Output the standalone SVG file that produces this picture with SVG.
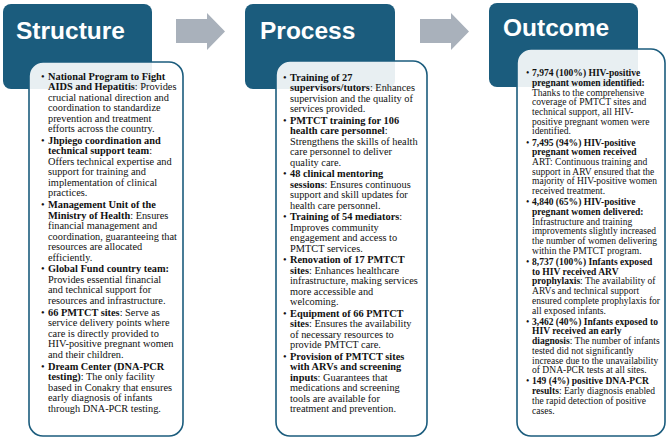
<svg xmlns="http://www.w3.org/2000/svg" width="669" height="439" viewBox="0 0 669 439">
<style>
.hdr{fill:#1b5c7d}
.card{fill:#ffffff;fill-opacity:0.9;stroke:#1b5c7d;stroke-width:1.6}
.ttl{font-family:"Liberation Sans",Arial,sans-serif;font-weight:bold;font-size:24.5px;fill:#ffffff}
.t{font-family:"Liberation Serif","Times New Roman",serif;font-size:10.35px;fill:#111111}
.o{font-family:"Liberation Serif","Times New Roman",serif;font-size:9.55px;fill:#111111}
.b{font-weight:bold}
.arr{fill:#a9b1bb}
</style>
<rect width="669" height="439" fill="#ffffff"/>
<g id="connectors">
<path class="arr" d="M176,19 H207 V13 L225,31.5 L207,50 V43 H176 Z"/>
<path class="arr" d="M420,19 H451 V13 L469,31.5 L451,50 V43 H420 Z"/>
</g>
<g id="structure">
<rect class="hdr" x="3" y="4" width="149" height="85" rx="8"/>
<text class="ttl" x="16" y="39">Structure</text>
<rect class="card" x="29" y="62" width="154" height="374" rx="14"/>
<g class="t">
<text x="41" y="79.5">•</text>
<text x="48" y="79.5" class="b">National Program to Fight</text>
<text x="48" y="90"><tspan class="b">AIDS and Hepatitis</tspan>: Provides</text>
<text x="48" y="100.5">crucial national direction and</text>
<text x="48" y="111">coordination to standardize</text>
<text x="48" y="121.5">prevention and treatment</text>
<text x="48" y="132">efforts across the country.</text>
<text x="41" y="143.8">•</text>
<text x="48" y="143.8" class="b">Jhpiego coordination and</text>
<text x="48" y="154.3"><tspan class="b">technical support team</tspan>:</text>
<text x="48" y="164.8">Offers technical expertise and</text>
<text x="48" y="175.3">support for training and</text>
<text x="48" y="185.8">implementation of clinical</text>
<text x="48" y="196.3">practices.</text>
<text x="41" y="208.1">•</text>
<text x="48" y="208.1" class="b">Management Unit of the</text>
<text x="48" y="218.6"><tspan class="b">Ministry of Health</tspan>: Ensures</text>
<text x="48" y="229.1">financial management and</text>
<text x="48" y="239.6">coordination, guaranteeing that</text>
<text x="48" y="250.1">resources are allocated</text>
<text x="48" y="260.6">efficiently.</text>
<text x="41" y="272.4">•</text>
<text x="48" y="272.4" class="b">Global Fund country team:</text>
<text x="48" y="282.9">Provides essential  financial</text>
<text x="48" y="293.4">and technical support for</text>
<text x="48" y="303.9">resources and infrastructure.</text>
<text x="41" y="315.7">•</text>
<text x="48" y="315.7"><tspan class="b">66 PMTCT sites</tspan>: Serve as</text>
<text x="48" y="326.2">service delivery points where</text>
<text x="48" y="336.7">care is directly provided to</text>
<text x="48" y="347.2">HIV-positive pregnant women</text>
<text x="48" y="357.7">and their children.</text>
<text x="41" y="369.5">•</text>
<text x="48" y="369.5" class="b">Dream Center (DNA-PCR</text>
<text x="48" y="380"><tspan class="b">testing)</tspan>: The only facility</text>
<text x="48" y="390.5">based in Conakry that ensures</text>
<text x="48" y="401">early diagnosis of infants</text>
<text x="48" y="411.5">through DNA-PCR testing.</text>
</g>
</g>
<g id="process">
<rect class="hdr" x="245" y="4" width="150" height="85" rx="8"/>
<text class="ttl" x="260" y="39">Process</text>
<rect class="card" x="276" y="61" width="151" height="375" rx="14"/>
<g class="t">
<text x="283" y="80.5">•</text>
<text x="290" y="80.5" class="b">Training of 27</text>
<text x="290" y="91"><tspan class="b">supervisors/tutors</tspan>: Enhances</text>
<text x="290" y="101.5">supervision and the quality of</text>
<text x="290" y="112">services provided.</text>
<text x="283" y="123.5">•</text>
<text x="290" y="123.5" class="b">PMTCT training for 106</text>
<text x="290" y="134"><tspan class="b">health care personnel</tspan>:</text>
<text x="290" y="144.5">Strengthens the skills of health</text>
<text x="290" y="155">care personnel to deliver</text>
<text x="290" y="165.5">quality care.</text>
<text x="283" y="177">•</text>
<text x="290" y="177" class="b">48 clinical mentoring</text>
<text x="290" y="187.5"><tspan class="b">sessions</tspan>: Ensures continuous</text>
<text x="290" y="198">support and skill updates for</text>
<text x="290" y="208.5">health care personnel.</text>
<text x="283" y="220">•</text>
<text x="290" y="220"><tspan class="b">Training of 54 mediators</tspan>:</text>
<text x="290" y="230.5">Improves community</text>
<text x="290" y="241">engagement and access to</text>
<text x="290" y="251.5">PMTCT services.</text>
<text x="283" y="263">•</text>
<text x="290" y="263" class="b">Renovation of 17 PMTCT</text>
<text x="290" y="273.5"><tspan class="b">sites</tspan>: Enhances healthcare</text>
<text x="290" y="284">infrastructure, making services</text>
<text x="290" y="294.5">more accessible and</text>
<text x="290" y="305">welcoming.</text>
<text x="283" y="316.5">•</text>
<text x="290" y="316.5" class="b">Equipment of 66 PMTCT</text>
<text x="290" y="327"><tspan class="b">sites</tspan>: Ensures the availability</text>
<text x="290" y="337.5">of necessary resources to</text>
<text x="290" y="348">provide PMTCT care.</text>
<text x="283" y="359.5">•</text>
<text x="290" y="359.5" class="b">Provision of PMTCT sites</text>
<text x="290" y="370" class="b">with ARVs and screening</text>
<text x="290" y="380.5"><tspan class="b">inputs</tspan>: Guarantees that</text>
<text x="290" y="391">medications and screening</text>
<text x="290" y="401.5">tools are available for</text>
<text x="290" y="412">treatment and prevention.</text>
</g>
</g>
<g id="outcome">
<rect class="hdr" x="489" y="3" width="149" height="84" rx="8"/>
<text class="ttl" x="503" y="36">Outcome</text>
<rect class="card" x="517" y="49" width="148" height="387" rx="14"/>
<g class="o">
<text x="526" y="76.2">•</text>
<text x="532" y="76.2" class="b">7,974 (100%) HIV-positive</text>
<text x="532" y="85.9" class="b">pregnant women identified:</text>
<text x="532" y="95.6">Thanks to the comprehensive</text>
<text x="532" y="105.3">coverage of PMTCT sites and</text>
<text x="532" y="115">technical support, all HIV-</text>
<text x="532" y="124.7">positive pregnant women were</text>
<text x="532" y="134.4">identified.</text>
<text x="526" y="145.6">•</text>
<text x="532" y="145.6" class="b">7,495 (94%) HIV-positive</text>
<text x="532" y="155.3" class="b">pregnant women received</text>
<text x="532" y="165">ART: Continuous training and</text>
<text x="532" y="174.7">support in ARV ensured that the</text>
<text x="532" y="184.4">majority of HIV-positive women</text>
<text x="532" y="194.1">received treatment.</text>
<text x="526" y="205.3">•</text>
<text x="532" y="205.3" class="b">4,840 (65%) HIV-positive</text>
<text x="532" y="215" class="b">pregnant women delivered:</text>
<text x="532" y="224.7">Infrastructure and training</text>
<text x="532" y="234.4">improvements slightly increased</text>
<text x="532" y="244.1">the number of women delivering</text>
<text x="532" y="253.8">within the PMTCT program.</text>
<text x="526" y="265">•</text>
<text x="532" y="265" class="b">8,737 (100%) Infants exposed</text>
<text x="532" y="274.7" class="b">to HIV received ARV</text>
<text x="532" y="284.4"><tspan class="b">prophylaxis</tspan>: The availability of</text>
<text x="532" y="294.1">ARVs and technical support</text>
<text x="532" y="303.8">ensured complete prophylaxis for</text>
<text x="532" y="313.5">all exposed infants.</text>
<text x="526" y="324.7">•</text>
<text x="532" y="324.7" class="b">3,462 (40%) Infants exposed to</text>
<text x="532" y="334.4" class="b">HIV received an early</text>
<text x="532" y="344.1"><tspan class="b">diagnosis</tspan>: The number of infants</text>
<text x="532" y="353.8">tested did not significantly</text>
<text x="532" y="363.5">increase due to the unavailability</text>
<text x="532" y="373.2">of DNA-PCR tests at all sites.</text>
<text x="526" y="384.4">•</text>
<text x="532" y="384.4" class="b">149 (4%) positive DNA-PCR</text>
<text x="532" y="394.1"><tspan class="b">results</tspan>: Early diagnosis enabled</text>
<text x="532" y="403.8">the rapid detection of positive</text>
<text x="532" y="413.5">cases.</text>
</g>
</g>
</svg>
